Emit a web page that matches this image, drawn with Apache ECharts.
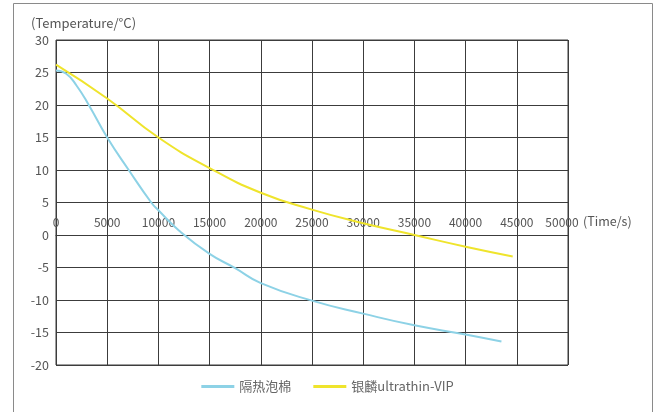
<!DOCTYPE html>
<html>
<head>
<meta charset="utf-8">
<script src="https://cdn.jsdelivr.net/npm/echarts@6/dist/echarts.min.js"></script>
<style>
    html, body {margin: 0; padding: 0; background: #fff;}
    #chart {width: 655px; height: 412px;}
</style>
</head>
<body>
<div id="chart"></div>
<script>
    //时间 (s)
    var foamTime = [0, 1000, 2000, 3200, 5000, 7100, 9300, 10000, 12000, 15000, 17500, 20000, 25000, 30000, 35000, 40000, 43500];
    var foamTemp = [25.3, 24.8, 23, 20, 15, 10, 5, 3.8, 0.7, -2.9, -5.1, -7.4, -10.1, -12.1, -13.9, -15.3, -16.4];
    var vipTime = [0, 5000, 10000, 15000, 20000, 25000, 30000, 35000, 40000, 44600];
    var vipTemp = [26.2, 21, 15, 10.3, 6.5, 3.9, 1.8, 0, -1.8, -3.3];
    var seriesNames = ['隔热泡棉', '银麟ultrathin-VIP'];
    var seriesColors = ['#8dd2e6', '#efe42c'];
    var timeMax = 50000;

    function pairs(xs, ys) {
        var arr = [];
        for (var i = 0; i < xs.length; i++) {
            arr.push([xs[i], ys[i]]);
        }
        return arr;
    }

    var font = '"Noto Sans CJK SC", "Noto Sans", sans-serif';
    var chart = echarts.init(document.getElementById('chart'));
    var option = {
        animation: false,
        textStyle: {fontFamily: font},
        graphic: [{
            type: 'rect',
            shape: {x: 13.5, y: 3.5, width: 639, height: 430},
            style: {fill: 'none', stroke: '#8a8a8a', lineWidth: 1}
        }],
        title: {
            text: '(Temperature/°C)',
            left: 26,
            top: 12,
            textStyle: {fontSize: 13, fontWeight: 'normal', color: '#555', fontFamily: font}
        },
        legend: {
            bottom: 14,
            left: 'center',
            icon: 'rect',
            itemWidth: 33,
            itemHeight: 3,
            itemGap: 22,
            textStyle: {fontSize: 13, color: '#666', fontFamily: font},
            data: seriesNames
        },
        grid: {
            left: 56,
            right: 87,
            top: 40,
            bottom: 47,
            show: true,
            borderColor: '#3c3c3c',
            borderWidth: 1
        },
        xAxis: {
            type: 'value',
            min: 0,
            max: timeMax,
            interval: 5000,
            position: 'bottom',
            offset: -130, //x轴放在0刻度处
            name: '(Time/s)',
            nameLocation: 'end',
            nameGap: 15,
            nameMoveOverlap: false,
            nameTextStyle: {fontSize: 12.5, color: '#555', verticalAlign: 'bottom', padding: [0, 0, 7, 0]},
            axisLine: {onZero: false, lineStyle: {color: '#3c3c3c'}},
            axisTick: {show: false},
            axisLabel: {
                inside: true,
                margin: 7,
                fontSize: 12,
                color: '#555',
                formatter: function (v) {
                    //最后一个刻度稍微左移
                    if (v == timeMax) return '{last|' + v + '}';
                    return String(v);
                },
                rich: {
                    last: {fontSize: 12, color: '#555', padding: [0, 12, 0, 0]}
                }
            },
            splitLine: {lineStyle: {color: '#3c3c3c', width: 1}}
        },
        yAxis: {
            type: 'value',
            min: -20,
            max: 30,
            interval: 5,
            axisLine: {show: false},
            axisTick: {show: false},
            axisLabel: {margin: 7, fontSize: 12.5, color: '#555'},
            splitLine: {lineStyle: {color: '#3c3c3c', width: 1}}
        },
        series: [{
            name: seriesNames[0],
            type: 'line',
            smooth: true,
            symbol: 'none',
            color: seriesColors[0],
            lineStyle: {width: 2},
            data: pairs(foamTime, foamTemp)
        }, {
            name: seriesNames[1],
            type: 'line',
            smooth: true,
            symbol: 'none',
            color: seriesColors[1],
            lineStyle: {width: 2},
            data: pairs(vipTime, vipTemp)
        }]
    };
    chart.setOption(option);
</script>
</body>
</html>
